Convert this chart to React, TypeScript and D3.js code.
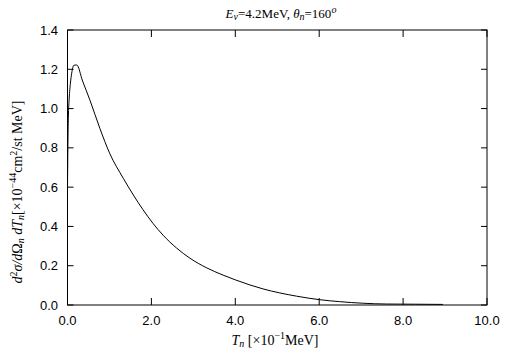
import React from "react";
import * as d3 from "d3";

const xTicks = [0, 2, 4, 6, 8, 10];
const yTicks = [0, 0.2, 0.4, 0.6, 0.8, 1.0, 1.2, 1.4];
const tn = [0.0, 0.01, 0.02, 0.04, 0.07, 0.1, 0.15, 0.22, 0.36, 0.54, 0.77, 1.01, 1.33, 1.57, 1.8, 2.04, 2.28, 2.6, 2.92, 3.31, 3.71, 4.0, 4.66, 5.46, 6.01, 6.49, 7.04, 7.6, 8.3, 8.95];
const sigma = [0.6, 0.82, 0.95, 1.05, 1.13, 1.18, 1.22, 1.222, 1.14, 1.04, 0.9, 0.77, 0.645, 0.56, 0.485, 0.415, 0.355, 0.29, 0.238, 0.19, 0.152, 0.128, 0.082, 0.045, 0.027, 0.017, 0.009, 0.005, 0.004, 0.003];

export default function App() {
  const W = 505, H = 361;
  const left = 67.5, right = 487, top = 30, bottom = 305;
  const x = d3.scaleLinear().domain([0, 10]).range([left, right]);
  const y = d3.scaleLinear().domain([0, 1.4]).range([bottom, top]);
  const line = d3.line<number>().x((_, i) => x(tn[i])).y((d) => y(d)).curve(d3.curveMonotoneX);
  const sans = "'Liberation Sans', Arial, sans-serif";
  const serif = "'Liberation Serif', 'Times New Roman', serif";
  return (
    <svg width={W} height={H} style={{ position: "absolute", left: 0, top: 0, background: "#fff" }}>
      <rect x={0} y={0} width={W} height={H} fill="#fff" />
      <rect x={left} y={top} width={right - left} height={bottom - top} fill="none" stroke="#000" strokeWidth={1} />
      {xTicks.map((t) => (
        <g key={"x" + t}>
          <line x1={x(t)} x2={x(t)} y1={bottom} y2={bottom - 7} stroke="#000" />
          <line x1={x(t)} x2={x(t)} y1={top} y2={top + 7} stroke="#000" />
          <text x={x(t)} y={325} textAnchor="middle" fontFamily={sans} fontSize={13}>{t.toFixed(1)}</text>
        </g>
      ))}
      {yTicks.map((t) => (
        <g key={"y" + t}>
          <line x1={left} x2={left + 6} y1={y(t)} y2={y(t)} stroke="#000" />
          <line x1={right} x2={right - 6} y1={y(t)} y2={y(t)} stroke="#000" />
          <text x={58} y={y(t) + 4.5} textAnchor="end" fontFamily={sans} fontSize={13}>{t.toFixed(1)}</text>
        </g>
      ))}
      <path d={line(sigma) || ""} fill="none" stroke="#000" strokeWidth={1} />
      <text x={281} y={18} textAnchor="middle" fontFamily={serif} fontSize={13}>
        <tspan fontStyle="italic">E</tspan><tspan fontStyle="italic" fontSize={10} dy={2}>ν</tspan>
        <tspan dy={-2}>=4.2MeV,  </tspan><tspan fontStyle="italic">θ</tspan>
        <tspan fontStyle="italic" fontSize={10} dy={2}>n</tspan><tspan dy={-2}>=160</tspan>
        <tspan fontSize={10} dy={-5} fontStyle="italic">o</tspan>
      </text>
      <text x={275} y={345} textAnchor="middle" fontFamily={serif} fontSize={14}>
        <tspan fontStyle="italic">T</tspan><tspan fontStyle="italic" fontSize={10} dy={2}>n</tspan>
        <tspan dy={-2}> [×10</tspan><tspan fontSize={10} dy={-6}>−1</tspan><tspan dy={6}>MeV]</tspan>
      </text>
      <g transform="translate(22,192) rotate(-90)">
        <text x={0} y={0} textAnchor="middle" fontFamily={serif} fontSize={14}>
          <tspan fontStyle="italic">d</tspan><tspan fontSize={10} dy={-5}>2</tspan>
          <tspan dy={5} fontStyle="italic">σ/d</tspan><tspan>Ω</tspan>
          <tspan fontStyle="italic" fontSize={10} dy={2}>n</tspan>
          <tspan dy={-2} fontStyle="italic"> dT</tspan><tspan fontStyle="italic" fontSize={10} dy={2}>n</tspan>
          <tspan dy={-2}>[×10</tspan><tspan fontSize={10} dy={-6}>−44</tspan>
          <tspan dy={6}>cm</tspan><tspan fontSize={10} dy={-5}>2</tspan><tspan dy={5}>/st MeV]</tspan>
        </text>
      </g>
    </svg>
  );
}
